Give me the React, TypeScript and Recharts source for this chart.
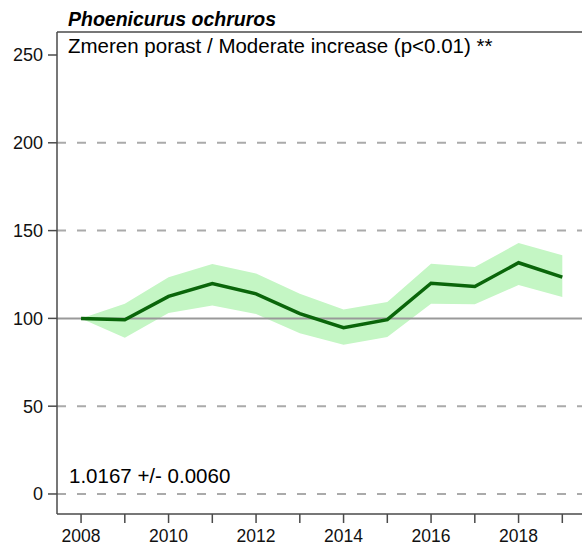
import { ComposedChart, Line, Area, XAxis, YAxis, ReferenceLine } from 'recharts';

const years = [2008, 2009, 2010, 2011, 2012, 2013, 2014, 2015, 2016, 2017, 2018, 2019];
const index = [100, 99.2, 112.5, 119.8, 114, 102.7, 94.7, 99.3, 120, 118.2, 131.7, 123.5];
const lower = [100, 89, 103, 107.4, 102.5, 91.5, 85, 89.4, 108.4, 108, 119, 112.2];
const upper = [100, 108.4, 123.5, 131, 125.5, 114, 105, 109.3, 131.1, 129.2, 142.9, 135.9];
const yTicks = [0, 50, 100, 150, 200, 250];
const dashedLevels = [0, 50, 150, 200];

const data = years.map((y, i) => ({ year: y, index: index[i], band: [lower[i], upper[i]] }));

const font = '"Liberation Sans", Arial, sans-serif';
const axisColor = '#4a4a4a';
const yTop = 263.1;

export default function App() {
  return (
    <div style={{ position: 'absolute', left: 0, top: 0, width: 582, height: 548, background: '#fff', fontFamily: font }}>
      <ComposedChart width={582} height={548} data={data} margin={{ top: 32, right: 0, bottom: 0, left: 0 }}>
        <XAxis
          dataKey="year"
          type="number"
          domain={[2007.45, 2019.45]}
          ticks={years}
          tickFormatter={(v) => (v % 2 === 0 ? String(v) : '')}
          height={34}
          stroke={axisColor}
          strokeWidth={1.5}
          tickSize={9}
          tickMargin={7}
          tick={{ fontSize: 17.5, fill: '#111', fontFamily: font }}
          interval={0}
        />
        <YAxis
          type="number"
          domain={[-11.4, yTop]}
          ticks={yTicks}
          width={57}
          stroke={axisColor}
          strokeWidth={1.5}
          tickSize={9}
          tickMargin={5}
          tick={{ fontSize: 18, fill: '#111', fontFamily: font }}
          interval={0}
        />
        {dashedLevels.map((v) => (
          <ReferenceLine key={v} y={v} stroke="#aaa" strokeWidth={2} strokeDasharray="9 11" />
        ))}
        <ReferenceLine y={yTop} stroke={axisColor} strokeWidth={1.5} />
        <Area
          dataKey="band"
          type="linear"
          stroke="none"
          fill="#c4f6c4"
          fillOpacity={1}
          isAnimationActive={false}
        />
        <ReferenceLine y={100} stroke="#999" strokeWidth={2} />
        <Line
          dataKey="index"
          type="linear"
          stroke="#0a650a"
          strokeWidth={3.5}
          dot={false}
          isAnimationActive={false}
        />
      </ComposedChart>
      <svg width={582} height={548} style={{ position: 'absolute', left: 0, top: 0, pointerEvents: 'none' }}>
        <text x={68} y={26} fontSize={19.5} fontWeight="bold" fontStyle="italic" fontFamily={font} fill="#000">
          Phoenicurus ochruros
        </text>
        <text x={68} y={53} fontSize={20.5} fontFamily={font} fill="#000">
          Zmeren porast / Moderate increase (p&lt;0.01) **
        </text>
        <text x={69} y={483} fontSize={20.5} fontFamily={font} fill="#000">
          1.0167 +/- 0.0060
        </text>
      </svg>
    </div>
  );
}
